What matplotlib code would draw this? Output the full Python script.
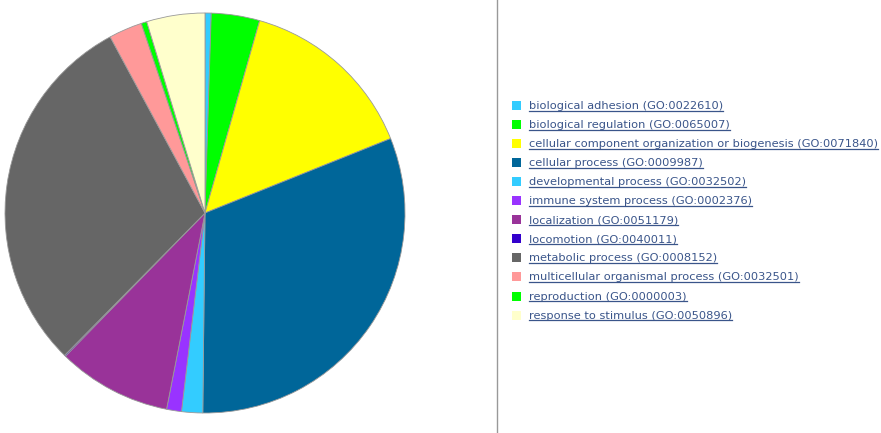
import matplotlib
matplotlib.use("Agg")
import matplotlib.pyplot as plt

# GO biological process categories (percent of genes)
labels = [
    "biological adhesion (GO:0022610)",
    "biological regulation (GO:0065007)",
    "cellular component organization or biogenesis (GO:0071840)",
    "cellular process (GO:0009987)",
    "developmental process (GO:0032502)",
    "immune system process (GO:0002376)",
    "localization (GO:0051179)",
    "locomotion (GO:0040011)",
    "metabolic process (GO:0008152)",
    "multicellular organismal process (GO:0032501)",
    "reproduction (GO:0000003)",
    "response to stimulus (GO:0050896)",
]
values = [0.5, 3.9, 14.5, 31.2, 1.7, 1.2, 9.2, 0.1, 29.7, 2.7, 0.45, 4.7]
colors = ["#33CCFF", "#00FF00", "#FFFF00", "#006699", "#33CCFF", "#9933FF",
          "#993399", "#3300CC", "#666666", "#FF9999", "#00FF00", "#FFFFCC"]

W, H = 881, 433
fig = plt.figure(figsize=(W / 100, H / 100), dpi=100)

# pie area
ax = fig.add_axes([5 / W, (H - 413) / H, 400 / W, 400 / H])
ax.pie(values, colors=colors, startangle=90, counterclock=False,
       wedgeprops=dict(edgecolor="#999999", linewidth=0.6))
ax.set_xlim(-1.0, 1.0)
ax.set_ylim(-1.0, 1.0)
ax.set_aspect("equal")
ax.axis("off")

# divider line
fig.add_artist(plt.Line2D([497 / W, 497 / W], [0, 1], color="#999999", linewidth=1))

# legend
text_color = "#3A558A"
y0 = 106
step = 19.05
texts = []
for i, (lab, col) in enumerate(zip(labels, colors)):
    y = y0 + i * step
    fig.add_artist(plt.Rectangle((512 / W, (H - y - 4) / H), 9 / W, 9 / H,
                                 facecolor=col, edgecolor="none"))
    t = fig.text(529 / W, (H - y) / H, lab, fontsize=8.2, color=text_color,
                 va="center", ha="left", family="DejaVu Sans")
    texts.append(t)

fig.canvas.draw()
r = fig.canvas.get_renderer()
for t in texts:
    bb = t.get_window_extent(r)
    yl = bb.y0 + 0.5
    fig.add_artist(plt.Line2D([bb.x0 / W, bb.x1 / W], [yl / H, yl / H],
                              color=text_color, linewidth=0.9))

fig.savefig("out.png", dpi=100)
